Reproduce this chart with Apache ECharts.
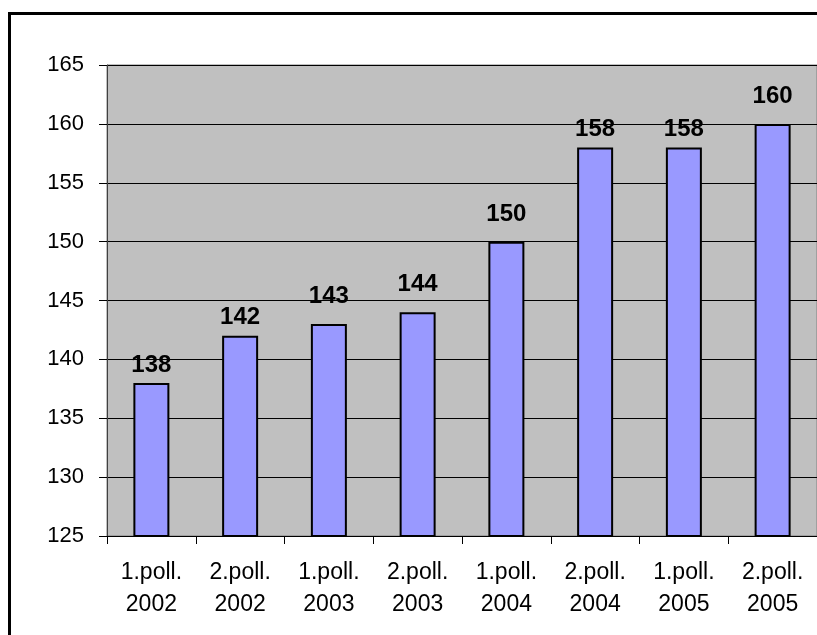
<!DOCTYPE html>
<html>
<head>
<meta charset="utf-8">
<script src="https://cdn.jsdelivr.net/npm/echarts@6/dist/echarts.min.js"></script>
<style>
  html, body { margin: 0; padding: 0; background: #fff; }
  #chart { width: 817px; height: 635px; }
</style>
</head>
<body>
<div id="chart"></div>
<script>
// categories and values
var categories = ['1.poll.\n2002', '2.poll.\n2002', '1.poll.\n2003', '2.poll.\n2003',
                  '1.poll.\n2004', '2.poll.\n2004', '1.poll.\n2005', '2.poll.\n2005'];
var values = [138, 142, 143, 144, 150, 158, 158, 160];
var yTicks = [125, 130, 135, 140, 145, 150, 155, 160, 165];

// the original places some value labels a bit higher than others
var labelGap = [6, 6, 16, 16, 15, 6, 6, 16];

var myChart = echarts.init(document.getElementById('chart'));

var barData = values.map(function (v, i) {
  return { value: v, label: { distance: labelGap[i] } };
});

var option = {
  backgroundColor: '#fff',
  animation: false,
  textStyle: { fontFamily: 'Liberation Sans, Arial, sans-serif' },
  graphic: [
    {
      type: 'rect',
      shape: { x: 9.5, y: 13.5, width: 840, height: 660 },
      style: { fill: 'none', stroke: '#000', lineWidth: 3 },
      z: 100
    }
  ],
  grid: {
    left: 107, top: 65, width: 716, height: 471,
    show: true, backgroundColor: '#C0C0C0', borderColor: '#808080', borderWidth: 1
  },
  xAxis: {
    type: 'category',
    data: categories,
    axisLine: { lineStyle: { color: '#000', width: 1 } },
    axisTick: { show: true, length: 8, lineStyle: { color: '#000' } },
    axisLabel: { color: '#000', fontSize: 23, lineHeight: 32, margin: 21 },
    splitLine: { show: false }
  },
  yAxis: {
    type: 'value',
    min: yTicks[0], max: yTicks[yTicks.length - 1], interval: 5,
    axisLine: { show: true, lineStyle: { color: '#404040', width: 1 } },
    axisTick: { show: true, length: 8, lineStyle: { color: '#000' } },
    axisLabel: { color: '#000', fontSize: 22, margin: 23 },
    splitLine: { show: true, lineStyle: { color: '#000', width: 1 } }
  },
  series: [
    {
      type: 'bar',
      data: barData,
      barWidth: 36,
      itemStyle: { color: '#9999FF', borderColor: '#000', borderWidth: 2 },
      label: {
        show: true, position: 'top', distance: 6,
        color: '#000', fontSize: 24, fontWeight: 'bold'
      }
    }
  ]
};

myChart.setOption(option);
</script>
</body>
</html>
